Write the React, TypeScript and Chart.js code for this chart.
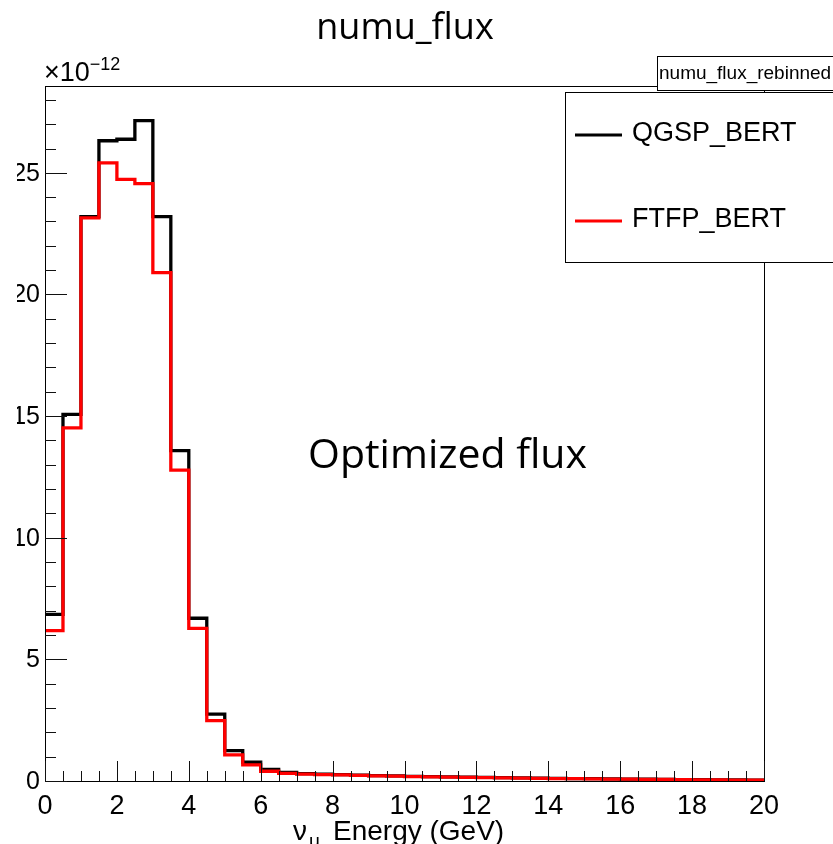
import React, { useEffect, useRef } from "react";
import { Chart, registerables } from "chart.js";

Chart.register(...registerables);

// ---- data (units of 1e-12) ----
const binLowEdges = [
  0, 0.5, 1, 1.5, 2, 2.5, 3, 3.5, 4, 4.5,
  5, 5.5, 6, 6.5, 7, 7.5, 8, 8.5, 9, 9.5,
  10, 10.5, 11, 11.5, 12, 12.5, 13, 13.5, 14, 14.5,
  15, 15.5, 16, 16.5, 17, 17.5, 18, 18.5, 19, 19.5,
];
const histUpperEdge = 20;

const qgspBert = [
  6.85, 15.07, 23.2, 26.32, 26.38, 27.15, 23.2, 13.58, 6.69, 2.75,
  1.25, 0.77, 0.48, 0.35, 0.3, 0.28, 0.26, 0.24, 0.22, 0.21,
  0.19, 0.18, 0.17, 0.16, 0.15, 0.14, 0.13, 0.12, 0.11, 0.1,
  0.095, 0.088, 0.08, 0.073, 0.066, 0.06, 0.055, 0.05, 0.045, 0.04,
];
const ftfpBert = [
  6.18, 14.52, 23.15, 25.41, 24.73, 24.56, 20.9, 12.78, 6.27, 2.48,
  1.07, 0.66, 0.4, 0.31, 0.28, 0.26, 0.25, 0.23, 0.21, 0.2,
  0.18, 0.17, 0.16, 0.15, 0.14, 0.13, 0.12, 0.11, 0.1, 0.095,
  0.088, 0.08, 0.074, 0.068, 0.062, 0.056, 0.05, 0.045, 0.04, 0.035,
];

const seriesNames = ["QGSP_BERT", "FTFP_BERT"];
const seriesColors = ["#000000", "#ff0000"];
const chartTitle = "numu_flux";
const statBoxTitle = "numu_flux_rebinned";
const annotationText = "Optimized flux";
const xAxisTitle = { main: "\u03bd", sub: "\u03bc", rest: "Energy (GeV)" };
const yExponent = { base: "\u00d710", exp: "\u221212" };
const xMin = 0;
const xMax = 20;
const yMin = 0;
const yMax = 28.57;

const HELV = "'Liberation Sans', Arial, sans-serif";
const SEGOE = "'Open Sans', 'Noto Sans', sans-serif";

function toSteps(values: number[]) {
  const pts = binLowEdges.map((x, i) => ({ x, y: values[i] }));
  pts.push({ x: histUpperEdge, y: values[values.length - 1] });
  return pts;
}

const rootStylePlugin = {
  id: "rootStyle",
  afterDraw(chart: any) {
    const { ctx, chartArea: a, scales } = chart;
    const xs = scales.x;
    const ys = scales.y;
    ctx.save();

    // frame
    ctx.strokeStyle = "#000";
    ctx.lineWidth = 1;
    ctx.strokeRect(a.left + 0.5, a.top + 0.5, a.right - a.left, a.bottom - a.top);

    // ticks
    ctx.strokeStyle = "#111";
    ctx.beginPath();
    for (let v = Math.ceil(ys.min); v <= ys.max + 1e-9; v += 1) {
      const py = Math.round(ys.getPixelForValue(v)) + 0.5;
      const len = v % 5 === 0 ? 22 : 11;
      ctx.moveTo(a.left, py);
      ctx.lineTo(a.left + len, py);
    }
    for (let k = 0; k <= (xs.max - xs.min) * 2 + 1e-9; k += 1) {
      const v = xs.min + k * 0.5;
      const px = Math.round(xs.getPixelForValue(v)) + 0.5;
      const len = k % 4 === 0 ? 20 : 10;
      ctx.moveTo(px, a.bottom);
      ctx.lineTo(px, a.bottom - len);
    }
    ctx.stroke();

    // y tick labels (clipped at pad edge)
    ctx.save();
    ctx.beginPath();
    ctx.rect(17, 0, a.left, chart.height);
    ctx.clip();
    ctx.fillStyle = "#000";
    ctx.font = `25px ${HELV}`;
    ctx.textAlign = "right";
    ctx.textBaseline = "middle";
    for (const t of ys.ticks) {
      ctx.fillText(String(t.value), a.left - 5, ys.getPixelForValue(t.value) + 1);
    }
    ctx.restore();

    // exponent
    ctx.fillStyle = "#000";
    ctx.textAlign = "left";
    ctx.textBaseline = "alphabetic";
    ctx.font = `27px ${HELV}`;
    ctx.fillText(yExponent.base, a.left - 1, 81);
    const bw = ctx.measureText(yExponent.base).width;
    ctx.font = `18px ${HELV}`;
    ctx.fillText(yExponent.exp, a.left - 1 + bw, 70);

    // x axis title
    const tb = 840;
    ctx.font = `28px ${HELV}`;
    ctx.fillText(xAxisTitle.main, 293, tb);
    const w1 = ctx.measureText(xAxisTitle.main).width;
    ctx.font = `19px ${HELV}`;
    ctx.fillText(xAxisTitle.sub, 293 + w1 + 2, tb + 7);
    ctx.font = `28px ${HELV}`;
    ctx.fillText(xAxisTitle.rest, 333, tb);

    // chart title
    ctx.font = `36px ${SEGOE}`;
    ctx.textAlign = "center";
    ctx.fillText(chartTitle, 405, 39);

    // annotation
    ctx.font = `41px ${SEGOE}`;
    ctx.textAlign = "left";
    ctx.fillText(annotationText, 308, 468);

    // stat title box
    ctx.fillStyle = "#fff";
    ctx.fillRect(657, 56, 200, 35);
    ctx.strokeStyle = "#000";
    ctx.lineWidth = 1;
    ctx.strokeRect(657.5, 56.5, 200, 34);
    ctx.fillStyle = "#000";
    ctx.font = `19px ${HELV}`;
    ctx.textBaseline = "middle";
    ctx.fillText(statBoxTitle, 659, 74);

    // legend box
    ctx.fillStyle = "#fff";
    ctx.fillRect(565, 92, 300, 171);
    ctx.strokeRect(565.5, 92.5, 300, 170);
    const rows = [134, 220];
    rows.forEach((ry, i) => {
      ctx.strokeStyle = seriesColors[i];
      ctx.lineWidth = 3;
      ctx.beginPath();
      ctx.moveTo(575, ry + 1);
      ctx.lineTo(622, ry + 1);
      ctx.stroke();
      ctx.fillStyle = "#000";
      ctx.font = `27px ${HELV}`;
      ctx.fillText(seriesNames[i], 632, ry);
    });

    ctx.restore();
  },
};

export default function App() {
  const canvasRef = useRef<HTMLCanvasElement | null>(null);

  useEffect(() => {
    const canvas = canvasRef.current;
    if (!canvas) return;
    const chart = new Chart(canvas, {
      type: "line",
      data: {
        datasets: [
          {
            label: seriesNames[0],
            data: toSteps(qgspBert),
            borderColor: seriesColors[0],
            borderWidth: 3.3,
            stepped: true,
            pointRadius: 0,
            fill: false,
            order: 1,
          },
          {
            label: seriesNames[1],
            data: toSteps(ftfpBert),
            borderColor: seriesColors[1],
            borderWidth: 3.3,
            stepped: true,
            pointRadius: 0,
            fill: false,
            order: 0,
          },
        ],
      },
      options: {
        animation: false,
        responsive: false,
        devicePixelRatio: 1,
        layout: { padding: { top: 86, right: 69, left: 0, bottom: 0 } },
        plugins: {
          legend: { display: false },
          title: { display: false },
          tooltip: { enabled: false },
        },
        scales: {
          x: {
            type: "linear",
            min: xMin,
            max: xMax,
            grid: { display: false, drawTicks: false },
            border: { display: false },
            ticks: {
              stepSize: 2,
              color: "#000",
              font: { family: HELV, size: 27 },
              padding: 9,
              maxRotation: 0,
              autoSkip: false,
            },
            afterFit: (s: any) => {
              s.height = 63;
            },
          },
          y: {
            type: "linear",
            min: yMin,
            max: yMax,
            grid: { display: false, drawTicks: false },
            border: { display: false },
            ticks: { display: false, stepSize: 5 },
            afterBuildTicks: (s: any) => {
              s.ticks = s.ticks.filter(
                (t: any) => Math.abs(t.value / 5 - Math.round(t.value / 5)) < 1e-6
              );
            },
            afterFit: (s: any) => {
              s.width = 45;
            },
          },
        },
      } as any,
      plugins: [rootStylePlugin],
    });
    return () => chart.destroy();
  }, []);

  return (
    <div style={{ position: "absolute", left: 0, top: 0, width: 833, height: 844, background: "#fff" }}>
      <canvas ref={canvasRef} width={833} height={844} style={{ width: 833, height: 844, display: "block" }} />
    </div>
  );
}
